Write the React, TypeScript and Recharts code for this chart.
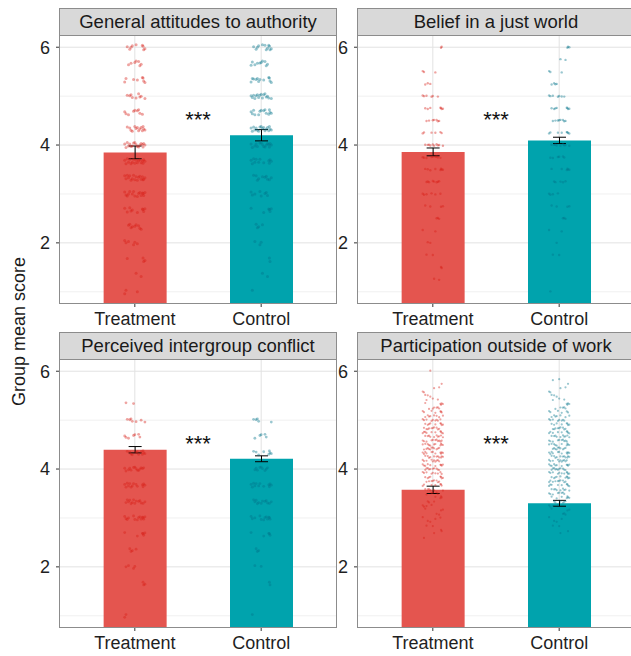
import {
  Bar,
  CartesianGrid,
  Cell,
  ComposedChart,
  ErrorBar,
  ReferenceDot,
  Scatter,
  XAxis,
  YAxis,
} from "recharts";

const groups = ["Treatment", "Control"];
const titles = [
  "General attitudes to authority",
  "Belief in a just world",
  "Perceived intergroup conflict",
  "Participation outside of work",
];

// group means and standard errors, [Treatment, Control]
const authorityMeans = [3.85, 4.2];
const authoritySE = [0.13, 0.115];
const justWorldMeans = [3.86, 4.095];
const justWorldSE = [0.08, 0.065];
const conflictMeans = [4.395, 4.21];
const conflictSE = [0.065, 0.06];
const participationMeans = [3.575, 3.3];
const participationSE = [0.075, 0.06];

// individual scores: response levels and how many respondents sit at each
const authorityLevels = [1, 1.33, 1.67, 2, 2.33, 2.67, 3, 3.33, 3.67, 4, 4.33, 4.67, 5, 5.33, 5.67, 6];
const authorityTreatCounts = [3, 2, 4, 6, 9, 10, 16, 18, 18, 18, 14, 9, 9, 8, 7, 9];
const authorityCtrlCounts = [1, 2, 2, 3, 4, 6, 8, 10, 12, 16, 18, 14, 16, 12, 10, 12];

const justWorldLevels = [1, 1.25, 1.5, 1.75, 2, 2.25, 2.5, 2.75, 3, 3.25, 3.5, 3.75, 4, 4.25, 4.5, 4.75, 5, 5.25, 5.5, 5.75, 6];
const justWorldTreatCounts = [0, 2, 2, 2, 2, 2, 3, 4, 6, 8, 8, 9, 10, 6, 7, 7, 6, 3, 3, 0, 2];
const justWorldCtrlCounts = [1, 0, 0, 2, 1, 2, 3, 4, 4, 5, 6, 6, 9, 8, 8, 8, 7, 4, 3, 2, 3];

const conflictLevels = [1, 1.33, 1.67, 2, 2.33, 2.67, 3, 3.33, 3.67, 4, 4.33, 4.67, 5, 5.33];
const conflictTreatCounts = [2, 0, 3, 4, 4, 6, 14, 14, 14, 14, 12, 7, 7, 2];
const conflictCtrlCounts = [1, 0, 2, 2, 3, 5, 12, 12, 12, 9, 8, 5, 5, 0];

const participationLevels = [
  2.58, 2.67, 2.75, 2.83, 2.92, 3.0, 3.08, 3.17, 3.25, 3.33, 3.42, 3.5, 3.58, 3.67,
  3.75, 3.83, 3.92, 4.0, 4.08, 4.17, 4.25, 4.33, 4.42, 4.5, 4.58, 4.67, 4.75, 4.83,
  4.92, 5.0, 5.08, 5.17, 5.25, 5.33, 5.42, 5.5, 5.58, 5.67, 5.75, 5.83, 6.0,
];
const participationTreatCounts = [
  1, 1, 2, 2, 2, 3, 2, 3, 4, 3, 4, 5, 6, 7, 8, 8, 9, 10, 10, 10, 11, 11, 11, 11,
  11, 10, 10, 10, 9, 9, 8, 7, 6, 5, 3, 3, 2, 2, 1, 0, 1,
];
const participationCtrlCounts = [
  0, 1, 1, 2, 2, 2, 3, 3, 4, 6, 7, 8, 9, 9, 10, 10, 11, 11, 11, 11, 11, 11, 10, 10,
  10, 10, 9, 9, 8, 8, 7, 6, 5, 4, 3, 3, 2, 2, 1, 2, 0,
];

const RED = "#E4554F";
const TEAL = "#00A3AD";
const RED_DOT = "#D81C14";
const TEAL_DOT = "#00728A";
const FONT = "'Liberation Sans', Arial, Helvetica, sans-serif";
const BORDER = "#8c8c8c";

// jitter pattern (pure position, like geom_jitter)
const JX = [-0.07, 0.03, -0.02, 0.06, -0.05, 0.01, 0.08, -0.08, 0.04, -0.04, 0.07, -0.01, 0.05, -0.06, 0.02, 0.0, -0.03, 0.065];
const JY = [0.6, -0.8, 0.0, 1.0, -0.4, 0.8, -1.0, 0.4, -0.6, 0.2];

function spread(levels: number[], counts: number[], cx: number, jy: number) {
  const pts: { x: number; y: number }[] = [];
  levels.forEach((lv, i) => {
    for (let k = 0; k < counts[i]; k++) {
      pts.push({ x: cx + JX[(k * 7 + i * 5) % JX.length], y: lv + JY[(k + i * 3) % JY.length] * jy });
    }
  });
  return pts;
}

const PW = 278; // panel width
const PH = 269; // panel height
const YW = 29; // y axis width
const XH = 31; // x axis height
const SH = 27; // strip height

type PanelProps = {
  title: string;
  means: number[];
  ses: number[];
  levels: number[];
  treat: number[];
  ctrl: number[];
  jy: number;
  r: number;
  op: number;
  left: number;
  top: number;
};

function Panel({ title, means, ses, levels, treat, ctrl, jy, r, op, left, top }: PanelProps) {
  const barData = groups.map((g, i) => ({ x: i + 1, name: g, mean: means[i], se: ses[i] }));
  const treatPts = spread(levels, treat, 1, jy);
  const ctrlPts = spread(levels, ctrl, 2, jy);
  const tick = { fill: "#1f1f1f", fontSize: 18, fontFamily: FONT };
  return (
    <>
      <div
        style={{
          position: "absolute",
          left,
          top,
          width: PW,
          height: SH + 1,
          boxSizing: "border-box",
          background: "#D9D9D9",
          border: `1px solid ${BORDER}`,
          color: "#1a1a1a",
          fontSize: 18.5,
          lineHeight: `${SH - 1}px`,
          textAlign: "center",
          whiteSpace: "nowrap",
        }}
      >
        {title}
      </div>
      <div style={{ position: "absolute", left: left - YW, top: top + SH }}>
        <ComposedChart
          width={YW + PW}
          height={PH + XH}
          data={barData}
          margin={{ top: 0, right: 0, bottom: 0, left: 0 }}
        >
          <CartesianGrid xAxisId="cat" vertical={false} horizontalValues={[1, 3, 5]} stroke="#F0F0F0" />
          <CartesianGrid xAxisId="cat" horizontalValues={[2, 4, 6]} verticalValues={[1, 2]} stroke="#E2E2E2" />
          <XAxis
            xAxisId="cat"
            dataKey="x"
            type="number"
            domain={[0.4, 2.6]}
            allowDataOverflow
            ticks={[1, 2]}
            tickFormatter={(v: number) => groups[v - 1]}
            axisLine={false}
            tickSize={3}
            tickMargin={5}
            tickLine={{ stroke: "#333" }}
            tick={tick}
            height={XH}
            interval={0}
          />
          <XAxis xAxisId="pts" dataKey="x" type="number" domain={[0.4, 2.6]} allowDataOverflow hide />
          <YAxis
            dataKey="y"
            type="number"
            domain={[0.75, 6.25]}
            allowDataOverflow
            ticks={[2, 4, 6]}
            axisLine={false}
            tickSize={3}
            tickMargin={6}
            tickLine={{ stroke: "#333" }}
            tick={tick}
            width={YW}
          />
          <Bar xAxisId="cat" dataKey="mean" barSize={63} isAnimationActive={false}>
            <Cell fill={RED} />
            <Cell fill={TEAL} />
            <ErrorBar dataKey="se" width={6.5} stroke="#000" strokeWidth={1} />
          </Bar>
          <Scatter
            xAxisId="pts"
            data={treatPts}
            dataKey="y"
            isAnimationActive={false}
            shape={(p: any) => <circle cx={p.cx} cy={p.cy} r={r} fill={RED_DOT} fillOpacity={op} />}
          />
          <Scatter
            xAxisId="pts"
            data={ctrlPts}
            dataKey="y"
            isAnimationActive={false}
            shape={(p: any) => <circle cx={p.cx} cy={p.cy} r={r} fill={TEAL_DOT} fillOpacity={op} />}
          />
          <ReferenceDot
            xAxisId="cat"
            x={1.5}
            y={4.57}
            r={0}
            fill="none"
            stroke="none"
            label={(p: any) => (
              <text
                x={p.viewBox.x + (p.viewBox.width || 0) / 2}
                y={p.viewBox.y + (p.viewBox.height || 0) / 2 + 10}
                textAnchor="middle"
                fontSize={22}
                fontFamily={FONT}
                fill="#111"
              >
                ***
              </text>
            )}
          />
        </ComposedChart>
      </div>
      <div
        style={{
          position: "absolute",
          left,
          top: top + SH,
          width: PW,
          height: PH,
          boxSizing: "border-box",
          border: `1px solid ${BORDER}`,
          pointerEvents: "none",
        }}
      />
    </>
  );
}

export default function App() {
  return (
    <div
      style={{
        position: "relative",
        width: 631,
        height: 656,
        overflow: "hidden",
        background: "#fff",
        fontFamily: FONT,
      }}
    >
      <style>{"body{margin:0}"}</style>
      <Panel title={titles[0]} means={authorityMeans} ses={authoritySE} levels={authorityLevels}
        treat={authorityTreatCounts} ctrl={authorityCtrlCounts} jy={0.05} r={1.5} op={0.4} left={59} top={8} />
      <Panel title={titles[1]} means={justWorldMeans} ses={justWorldSE} levels={justWorldLevels}
        treat={justWorldTreatCounts} ctrl={justWorldCtrlCounts} jy={0.015} r={1.2} op={0.4} left={357} top={8} />
      <Panel title={titles[2]} means={conflictMeans} ses={conflictSE} levels={conflictLevels}
        treat={conflictTreatCounts} ctrl={conflictCtrlCounts} jy={0.04} r={1.4} op={0.4} left={59} top={332} />
      <Panel title={titles[3]} means={participationMeans} ses={participationSE} levels={participationLevels}
        treat={participationTreatCounts} ctrl={participationCtrlCounts} jy={0.02} r={1.1} op={0.4} left={357} top={332} />
      <svg style={{ position: "absolute", left: 0, top: 0 }} width={40} height={656}>
        <text
          x={0}
          y={0}
          transform="translate(25 331.5) rotate(-90)"
          textAnchor="middle"
          fontSize={18}
          fontFamily={FONT}
          fill="#1a1a1a"
        >
          Group mean score
        </text>
      </svg>
    </div>
  );
}
